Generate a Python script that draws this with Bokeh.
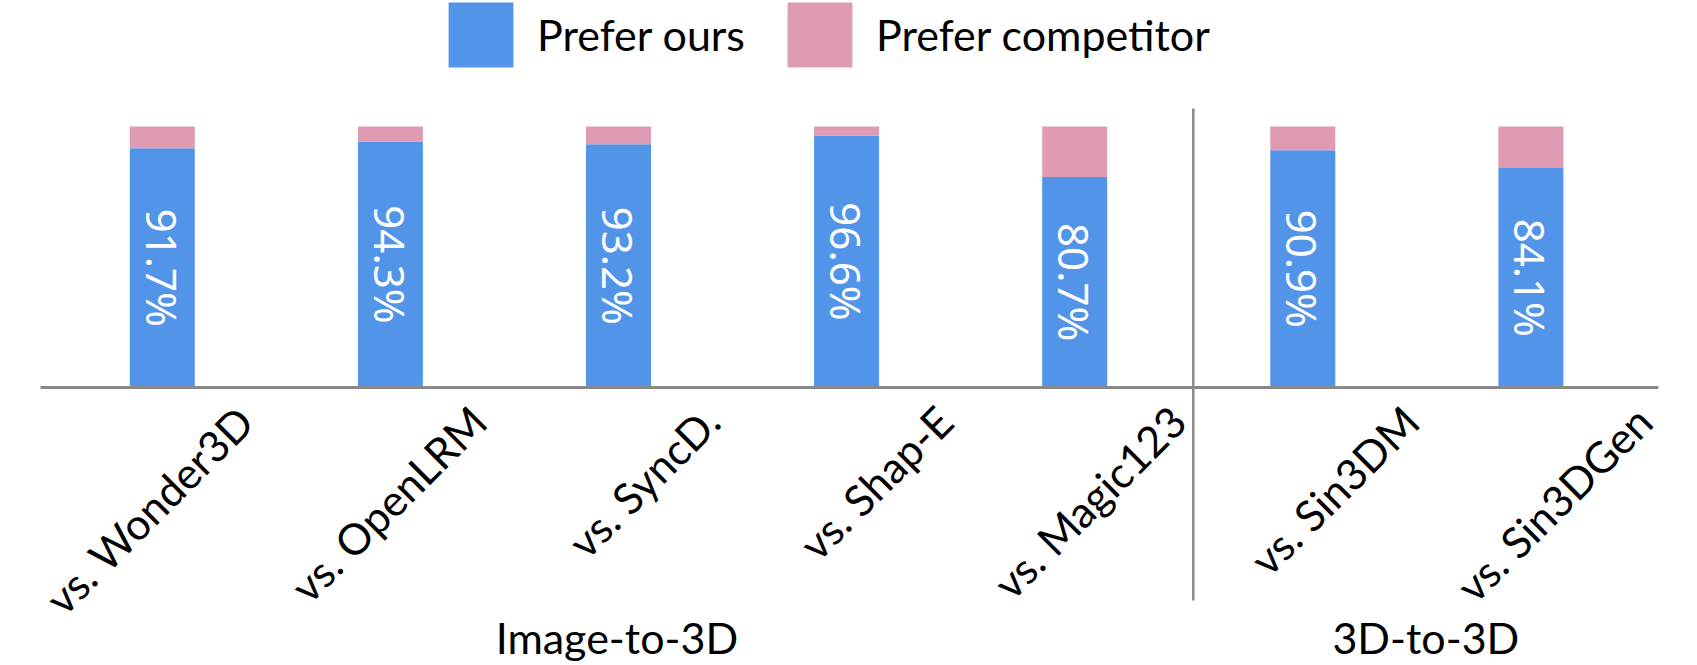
import math
from bokeh.plotting import figure
from bokeh.models import Range1d, ColumnDataSource, Legend, LegendItem
from bokeh.core.properties import value
from bokeh.embed import file_html
from bokeh.resources import INLINE

# ---- data ----
categories = ["vs. Wonder3D", "vs. OpenLRM", "vs. SyncD.", "vs. Shap-E",
              "vs. Magic123", "vs. Sin3DM", "vs. Sin3DGen"]
prefer_ours = [91.7, 94.3, 93.2, 96.6, 80.7, 90.9, 84.1]
prefer_competitor = [8.3, 5.7, 6.8, 3.4, 19.3, 9.1, 15.9]
groups = ["Image-to-3D", "3D-to-3D"]
group_sizes = [5, 2]
series_names = ["Prefer ours", "Prefer competitor"]

# ---- style ----
BLUE = "#5294E8"
PINK = "#DF9BB3"
GRAY = "#898989"
LABEL_FONT = "Lato"
VALUE_FONT = "Noto Sans"
LABEL_SIZE = "43px"

W, H = 1697, 665
PX_PER_X = 228.1
PX_PER_Y = 2.61
X0 = -0.2093
Y_TOP = 148.28

p = figure(width=W, height=H, output_backend="svg", toolbar_location=None,
           x_range=Range1d(X0, X0 + W / PX_PER_X),
           y_range=Range1d(Y_TOP - H / PX_PER_Y, Y_TOP),
           x_axis_location=None, y_axis_location=None, min_border=0,
           outline_line_color=None, background_fill_color="white",
           border_fill_color="white")
p.xgrid.visible = False
p.ygrid.visible = False

n = len(categories)
xs = [i + 0.5 for i in range(n)]
src = ColumnDataSource(dict(
    x=xs, cat=categories, ours=prefer_ours, comp=prefer_competitor,
    top_comp=[a + b for a, b in zip(prefer_ours, prefer_competitor)],
    mid=[v / 2 for v in prefer_ours],
    lbl=[f"{v}%" for v in prefer_ours],
    lbl_dx=[83 + 5 * i for i in range(n)],   # label anchor shift (px)
))

BAR_W = 0.285
r_ours = p.vbar(x="x", width=BAR_W, bottom=0, top="ours", source=src,
                fill_color=BLUE, line_color=None)
r_comp = p.vbar(x="x", width=BAR_W, bottom="ours", top="top_comp", source=src,
                fill_color=PINK, line_color=None)

# value labels inside blue bars
p.text(x="x", y="mid", text="lbl", source=src, angle=-math.pi / 2,
       text_align="center", text_baseline="middle", text_color="white",
       text_font=value(VALUE_FONT), text_font_size="42px")

# axis line
ax_start, ax_end = -0.034, n + 0.059
p.segment(x0=[ax_start], y0=[0], x1=[ax_end], y1=[0], line_color=GRAY,
          line_width=3)

# group separator
bounds = [0]
for s in group_sizes:
    bounds.append(bounds[-1] + s)
sep_x = bounds[1] + 0.02
p.segment(x0=[sep_x], y0=[-81.6], x1=[sep_x], y1=[106.9], line_color=GRAY,
          line_width=2.5)

# category labels (rotated)
p.text(x="x", y=0, text="cat", source=src, angle=math.pi / 4,
       x_offset="lbl_dx", y_offset=26, text_align="right",
       text_baseline="alphabetic", text_color="black",
       text_font=value(LABEL_FONT), text_font_size=LABEL_SIZE)

# group labels
edges = [ax_start, sep_x, ax_end]
gx = [(edges[i] + edges[i + 1]) / 2 for i in range(len(groups))]
p.text(x=gx, y=[0] * len(groups), text=groups, y_offset=250,
       text_align="center", text_baseline="alphabetic", text_color="black",
       text_font=value(LABEL_FONT), text_font_size=LABEL_SIZE)

# legend
legend = Legend(items=[LegendItem(label=series_names[0], renderers=[r_ours]),
                       LegendItem(label=series_names[1], renderers=[r_comp])],
                orientation="horizontal", location=(440, 590),
                glyph_width=81, glyph_height=81, label_standoff=16,
                spacing=34, padding=0, margin=0,
                border_line_color=None, background_fill_alpha=0,
                label_text_font=LABEL_FONT, label_text_font_size=LABEL_SIZE,
                label_text_color="black", label_text_baseline="middle")
p.add_layout(legend)

open("out.html", "w").write(file_html(p, INLINE))
